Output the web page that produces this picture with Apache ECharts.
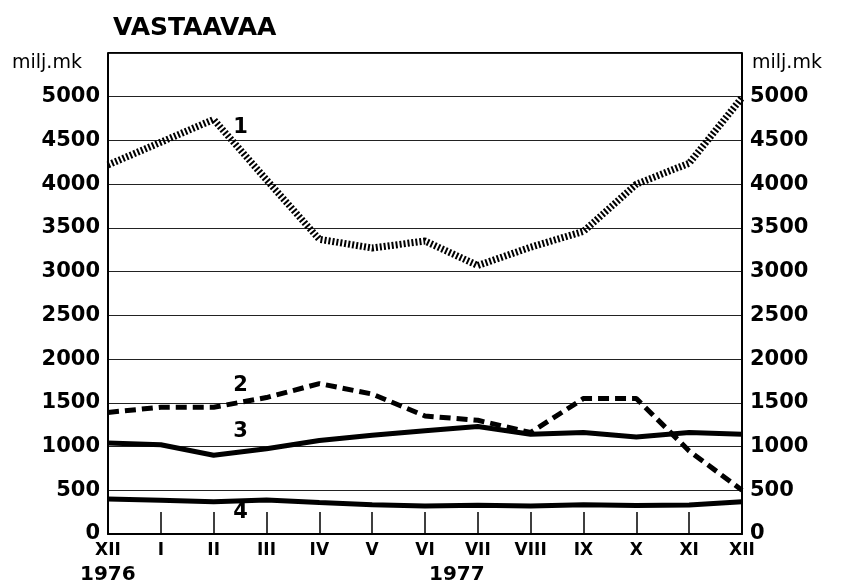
<!DOCTYPE html>
<html>
<head>
<meta charset="utf-8">
<script src="https://cdn.jsdelivr.net/npm/echarts@6/dist/echarts.min.js"></script>
<style>
  html, body { margin: 0; padding: 0; background: #fff; }
  #chart { width: 843px; height: 588px; }
</style>
</head>
<body>
<div id="chart"></div>
<script>
// kuukaudet XII/1976 - XII/1977
var months = ['XII', 'I', 'II', 'III', 'IV', 'V', 'VI', 'VII', 'VIII', 'IX', 'X', 'XI', 'XII'];
var series1 = [4220, 4480, 4740, 4050, 3370, 3270, 3350, 3070, 3280, 3460, 4000, 4240, 4990];
var series2 = [1390, 1450, 1450, 1560, 1720, 1600, 1350, 1300, 1160, 1550, 1550, 950, 500];
var series3 = [1040, 1020, 900, 975, 1070, 1130, 1180, 1230, 1140, 1160, 1110, 1160, 1140];
var series4 = [400, 385, 370, 390, 360, 335, 320, 330, 320, 335, 325, 332, 370];
var seriesNames = ['1', '2', '3', '4'];
// numerot viivojen vieressä: [kuukausi, arvo]
var labelAt = [['II', 4650], ['II', 1700], ['II', 1170], ['II', 245]];

var font = 'DejaVu Sans';
var chart = echarts.init(document.getElementById('chart'));

function numLabel (i) {
  return {
    symbol: 'circle',
    symbolSize: 0,
    silent: true,
    label: {
      show: true,
      formatter: seriesNames[i],
      offset: [27, 0],
      color: '#000',
      fontFamily: font,
      fontWeight: 'bold',
      fontSize: 21
    },
    data: [{ coord: labelAt[i] }]
  }
}

function yAxisCfg (pos) {
  return {
    type: 'value',
    position: pos,
    min: 0,
    max: 5500,
    interval: 500,
    axisLine: { show: true, lineStyle: { color: '#000', width: 2 } },
    axisTick: { show: false },
    splitLine: {
      show: pos === 'left',
      lineStyle: { color: '#222', width: 1 }
    },
    axisLabel: {
      margin: 8,
      color: '#000',
      fontFamily: font,
      fontWeight: 'bold',
      fontSize: 21,
      formatter: function (v) { return v === 5500 ? '' : String(v) }
    }
  }
}

chart.setOption({
  backgroundColor: '#fff',
  animation: false,
  title: {
    text: 'VASTAAVAA',
    left: 108,
    top: 11,
    textStyle: { fontFamily: font, fontWeight: 'bold', fontSize: 25, color: '#000' }
  },
  grid: { left: 108, right: 101, top: 53, bottom: 54 },
  xAxis: {
    type: 'category',
    boundaryGap: false,
    data: months,
    axisLine: { lineStyle: { color: '#000', width: 2 } },
    axisTick: { inside: true, length: 22, lineStyle: { color: '#000', width: 1.5 } },
    axisLabel: {
      margin: 8,
      color: '#000',
      fontFamily: font,
      fontWeight: 'bold',
      fontSize: 17,
      interval: 0
    }
  },
  yAxis: [yAxisCfg('left'), yAxisCfg('right')],
  graphic: [
    { type: 'text', left: 12, top: 54, style: { text: 'milj.mk', font: '19px "DejaVu Sans"', fill: '#000' } },
    { type: 'text', left: 752, top: 54, style: { text: 'milj.mk', font: '19px "DejaVu Sans"', fill: '#000' } },
    { type: 'text', left: 80, top: 565, style: { text: '1976', font: 'bold 20px "DejaVu Sans"', fill: '#000' } },
    { type: 'text', left: 429, top: 565, style: { text: '1977', font: 'bold 20px "DejaVu Sans"', fill: '#000' } },
    // yläreuna
    { type: 'line', shape: { x1: 108, y1: 53, x2: 742, y2: 53 }, style: { stroke: '#000', lineWidth: 2 } }
  ],
  series: [
    {
      name: '1',
      type: 'line',
      data: series1,
      symbol: 'none',
      lineStyle: { color: '#000', width: 7, type: [2, 2] },
      markPoint: numLabel(0),
      z: 4
    },
    {
      name: '2',
      type: 'line',
      data: series2,
      symbol: 'none',
      lineStyle: { color: '#000', width: 5, type: [11, 6] },
      markPoint: numLabel(1),
      z: 4
    },
    {
      name: '3',
      type: 'line',
      data: series3,
      symbol: 'none',
      lineStyle: { color: '#000', width: 5 },
      markPoint: numLabel(2),
      z: 3
    },
    {
      name: '4',
      type: 'line',
      data: series4,
      symbol: 'none',
      lineStyle: { color: '#000', width: 5 },
      markPoint: numLabel(3),
      z: 3
    }
  ]
});
</script>
</body>
</html>
